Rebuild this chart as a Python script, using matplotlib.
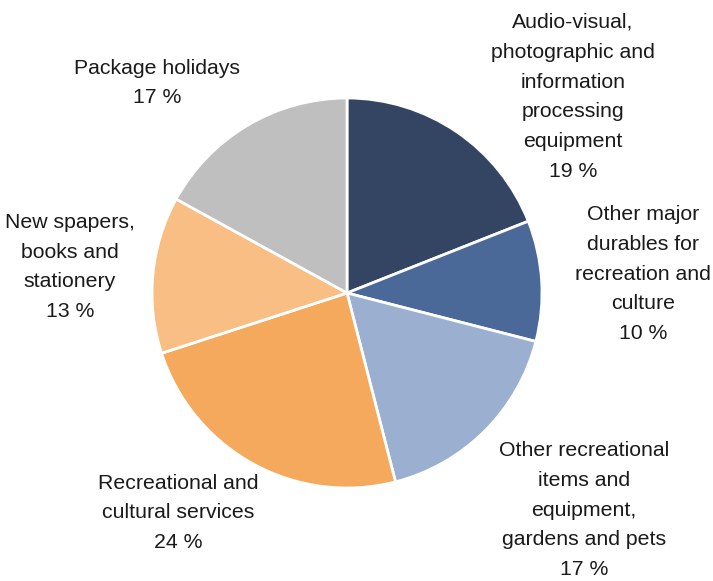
import matplotlib.pyplot as plt

plt.rcParams['font.family'] = ['Liberation Sans', 'DejaVu Sans']

categories = [
    "Audio-visual,\nphotographic and\ninformation\nprocessing\nequipment",
    "Other major\ndurables for\nrecreation and\nculture",
    "Other recreational\nitems and\nequipment,\ngardens and pets",
    "Recreational and\ncultural services",
    "New spapers,\nbooks and\nstationery",
    "Package holidays",
]
shares = [19, 10, 17, 24, 13, 17]
colors = ["#344563", "#4A6898", "#9BAFD1", "#F5A95D", "#F8BE84", "#BFBFBF"]

# label centres in pixel coords (x from left, y from top)
label_pos = [(573, 97), (643, 274), (584, 510), (178, 513), (70, 267), (157, 83)]

W, H = 713, 581
fig = plt.figure(figsize=(W / 100, H / 100), dpi=100)
ax = fig.add_axes([0, 0, 1, 1])

ax.pie(shares, colors=colors, startangle=90, counterclock=False,
       center=(347, H - 293), radius=195,
       wedgeprops=dict(edgecolor='white', linewidth=2), frame=True)
ax.set_xlim(0, W)
ax.set_ylim(0, H)
ax.set_aspect('equal')
ax.axis('off')

for name, val, (px, py) in zip(categories, shares, label_pos):
    ax.text(px, H - py, f"{name}\n{val} %", ha='center', va='center',
            fontsize=15.3, linespacing=1.73, color='#1a1a1a')

fig.savefig("out.png", dpi=100)
